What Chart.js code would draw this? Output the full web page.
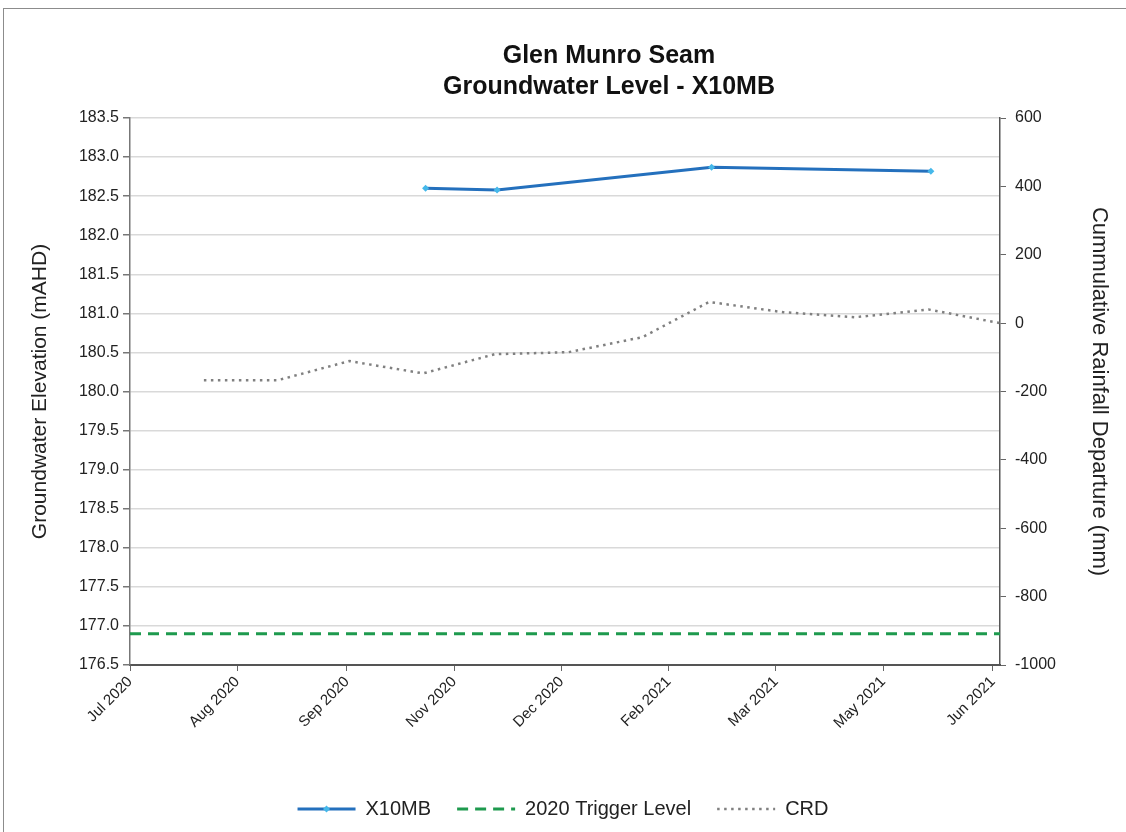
<!DOCTYPE html>
<html>
<head>
<meta charset="utf-8">
<script src="https://cdn.jsdelivr.net/npm/chart.js@4"></script>
<style>
  html, body { margin: 0; padding: 0; background: #fff; }
  #wrap { position: relative; width: 1126px; height: 832px; overflow: hidden; }
  #frame { position: absolute; left: 3px; top: 8px; width: 1140px; height: 840px; border: 1px solid #8c8c8c; }
  #title {
    position: absolute; left: 0; top: 39px; width: 1218px; text-align: center;
    font: bold 25px "Liberation Sans", Arial, sans-serif; line-height: 31px; color: #111;
  }
  canvas { position: absolute; left: 0; top: 0; }
</style>
</head>
<body>
<div id="wrap">
  <div id="frame"></div>
  <canvas id="c" width="1126" height="832"></canvas>
  <div id="title">Glen Munro Seam<br>Groundwater Level - X10MB</div>
</div>
<script>
// ── 資料 ────────────────────────────────────────────────
const START_DATE = "2020-07-01";
const END_DATE = "2021-07-01";

// X10MB 水位 (mAHD)
const X10MB_DATES = ["2020-11-02", "2020-12-02", "2021-03-02", "2021-06-02"];
const X10MB_LEVELS = [182.60, 182.58, 182.87, 182.82];

// 觸發水位
const TRIGGER_LEVEL = 176.9;

// 累積降雨偏差 CRD (mm)
const CRD_DATES = [
  "2020-08-01", "2020-09-01", "2020-10-01", "2020-11-01", "2020-12-01", "2021-01-01",
  "2021-02-01", "2021-03-01", "2021-04-01", "2021-05-01", "2021-06-01", "2021-07-01",
];
const CRD_VALUES = [-167, -167, -111, -147, -91, -85, -41, 62, 32, 17, 40, 0];

// X 軸刻度
const TICK_DATES = [
  "2020-07-01", "2020-08-15", "2020-09-30", "2020-11-14", "2020-12-29",
  "2021-02-12", "2021-03-29", "2021-05-13", "2021-06-28",
];
const TICK_LABELS = [
  "Jul 2020", "Aug 2020", "Sep 2020", "Nov 2020", "Dec 2020",
  "Feb 2021", "Mar 2021", "May 2021", "Jun 2021",
];

// ── 工具 ────────────────────────────────────────────────
const DAY_MS = 864e5;
function toDay(s) {
  return Math.round((Date.parse(s) - Date.parse(START_DATE)) / DAY_MS);
}
const X_MAX = toDay(END_DATE);

const FONT = "'Liberation Sans', Arial, sans-serif";
Chart.defaults.font.family = FONT;
Chart.defaults.color = "#333";

const LEGEND_BOX = 58;

// 圖例：線段樣式直接取自 dataset
function legendLabels(chart) {
  return chart.data.datasets.map((ds, i) => ({
    text: ds.label,
    datasetIndex: i,
    pointStyle: "line",
    strokeStyle: ds.borderColor,
    fillStyle: ds.borderColor,
    lineWidth: ds.borderWidth,
    lineDash: ds.borderDash || [],
    fontColor: "#222",
    hidden: false,
  }));
}

// X10MB 圖例中間的小菱形
const legendMarker = {
  id: "legend-marker",
  afterDraw(chart) {
    const lg = chart.legend;
    if (!lg || !lg.legendHitBoxes || !lg.legendHitBoxes[0]) return;
    const box = lg.legendHitBoxes[0];
    const ds = chart.data.datasets[0];
    const { ctx } = chart;
    ctx.save();
    ctx.fillStyle = ds.pointBackgroundColor;
    const cx = box.left + LEGEND_BOX / 2;
    const cy = box.top + box.height / 2;
    Chart.helpers.drawPoint(ctx, { pointStyle: "rectRot", radius: 3.5, rotation: 0, borderWidth: 0 }, cx, cy);
    ctx.restore();
  },
};

// ── 圖表 ────────────────────────────────────────────────
new Chart(document.getElementById("c"), {
  type: "line",
  data: {
    datasets: [
      {
        label: "X10MB",
        data: X10MB_DATES.map((d, i) => ({ x: toDay(d), y: X10MB_LEVELS[i] })),
        yAxisID: "y",
        borderColor: "#2470bd",
        backgroundColor: "#45b8ea",
        borderWidth: 3,
        pointRadius: 3.5,
        pointStyle: "rectRot",
        pointBorderWidth: 0,
        pointBackgroundColor: "#45b8ea",
      },
      {
        label: "2020 Trigger Level",
        data: [{ x: 0, y: TRIGGER_LEVEL }, { x: X_MAX, y: TRIGGER_LEVEL }],
        yAxisID: "y",
        borderColor: "#1e9a4e",
        borderWidth: 3,
        borderDash: [11, 7],
        pointRadius: 0,
      },
      {
        label: "CRD",
        data: CRD_DATES.map((d, i) => ({ x: toDay(d), y: CRD_VALUES[i] })),
        yAxisID: "y2",
        borderColor: "#808080",
        borderWidth: 2.5,
        borderDash: [2.5, 4.5],
        pointRadius: 0,
      },
    ],
  },
  plugins: [legendMarker],
  options: {
    responsive: false,
    animation: false,
    layout: { padding: { top: 118, bottom: 3, left: 0, right: 0 } },
    plugins: {
      title: { display: false },
      tooltip: { enabled: false },
      legend: {
        position: "bottom",
        onClick: null,
        labels: {
          usePointStyle: true,
          pointStyle: "line",
          pointStyleWidth: LEGEND_BOX,
          padding: 26,
          color: "#222",
          font: { size: 20 },
          generateLabels: legendLabels,
        },
      },
    },
    scales: {
      x: {
        type: "linear",
        min: 0,
        max: X_MAX,
        afterBuildTicks(scale) {
          scale.ticks = TICK_DATES.map(d => ({ value: toDay(d) }));
        },
        afterFit(scale) { scale.height = 108; },
        ticks: {
          autoSkip: false,
          maxRotation: 45,
          minRotation: 45,
          padding: 2,
          color: "#222",
          font: { size: 15 },
          callback: (v, i) => TICK_LABELS[i],
        },
        grid: { drawOnChartArea: false, tickLength: 6, tickColor: "#666" },
        border: { color: "#555", width: 2 },
      },
      y: {
        position: "left",
        min: 176.5,
        max: 183.5,
        afterFit(scale) { scale.width = 130; },
        ticks: {
          stepSize: 0.5,
          padding: 4,
          color: "#222",
          font: { size: 16 },
          callback: v => v.toFixed(1),
        },
        grid: { color: "#d9d9d9", lineWidth: 1.5, tickLength: 7, tickColor: "#777" },
        border: { color: "#777", width: 1.5 },
        title: {
          display: true,
          text: "Groundwater Elevation (mAHD)",
          color: "#222",
          font: { size: 21 },
          padding: { top: 28, bottom: 0 },
        },
      },
      y2: {
        position: "right",
        min: -1000,
        max: 600,
        afterFit(scale) { scale.width = 126; },
        ticks: {
          stepSize: 200,
          padding: 9,
          color: "#222",
          font: { size: 16 },
          callback: v => String(v),
        },
        grid: { drawOnChartArea: false, tickLength: 6, tickColor: "#666" },
        border: { color: "#555", width: 1.5 },
        title: {
          display: true,
          text: "Cummulative Rainfall Departure (mm)",
          color: "#222",
          font: { size: 22 },
          padding: { top: 14, bottom: 0 },
        },
      },
    },
  },
});
</script>
</body>
</html>
